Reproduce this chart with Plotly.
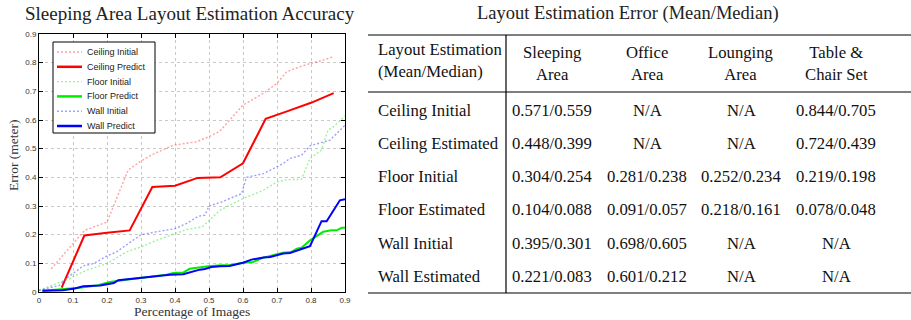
import plotly.graph_objects as go

W, H = 911, 320

# ---------------- chart data ----------------
ceil_init_x = [0.036, 0.134, 0.200, 0.262, 0.296, 0.336, 0.395, 0.463, 0.498, 0.532, 0.600, 0.660, 0.700, 0.728, 0.768, 0.797, 0.836, 0.866]
ceil_init_y = [0.081, 0.215, 0.244, 0.425, 0.454, 0.481, 0.512, 0.524, 0.541, 0.561, 0.652, 0.693, 0.728, 0.768, 0.786, 0.797, 0.809, 0.821]

ceil_pred_x = [1/15, 2/15, 3/15, 4/15, 5/15, 6/15, 7/15, 8/15, 9/15, 10/15, 11/15, 12/15, 13/15]
ceil_pred_y = [0.015, 0.197, 0.207, 0.215, 0.366, 0.371, 0.398, 0.400, 0.449, 0.604, 0.632, 0.660, 0.694]

floor_init_x = [0.0, 0.06, 0.09, 0.14, 0.20, 0.257, 0.30, 0.345, 0.40, 0.434, 0.48, 0.532, 0.60, 0.66, 0.70, 0.728, 0.772, 0.797, 0.831, 0.85, 0.866, 0.90]
floor_init_y = [0.006, 0.035, 0.047, 0.076, 0.099, 0.140, 0.157, 0.180, 0.204, 0.218, 0.227, 0.285, 0.326, 0.355, 0.384, 0.392, 0.393, 0.466, 0.495, 0.565, 0.576, 0.614]

floor_pred_x = [0.01, 0.07, 0.12, 0.17, 0.208, 0.257, 0.306, 0.34, 0.375, 0.395, 0.424, 0.443, 0.473, 0.498, 0.537, 0.56, 0.60, 0.63, 0.66, 0.684, 0.718, 0.743, 0.758, 0.772, 0.797, 0.836, 0.86, 0.876, 0.89, 0.90]
floor_pred_y = [0.004, 0.009, 0.015, 0.023, 0.035, 0.043, 0.050, 0.057, 0.060, 0.066, 0.068, 0.081, 0.087, 0.090, 0.093, 0.093, 0.102, 0.105, 0.120, 0.128, 0.137, 0.140, 0.151, 0.154, 0.180, 0.210, 0.215, 0.215, 0.224, 0.224]

wall_init_x = [0.0, 0.06, 0.08, 0.13, 0.16, 0.20, 0.228, 0.264, 0.30, 0.345, 0.40, 0.434, 0.468, 0.488, 0.50, 0.532, 0.571, 0.596, 0.61, 0.66, 0.70, 0.718, 0.738, 0.772, 0.797, 0.856, 0.90]
wall_init_y = [0.006, 0.023, 0.047, 0.091, 0.099, 0.126, 0.140, 0.169, 0.200, 0.210, 0.221, 0.239, 0.264, 0.268, 0.300, 0.312, 0.332, 0.343, 0.400, 0.413, 0.437, 0.448, 0.466, 0.477, 0.510, 0.530, 0.582]

wall_pred_x = [0.01, 0.07, 0.105, 0.13, 0.18, 0.22, 0.233, 0.257, 0.30, 0.33, 0.365, 0.385, 0.424, 0.449, 0.473, 0.488, 0.507, 0.532, 0.56, 0.60, 0.625, 0.66, 0.68, 0.718, 0.738, 0.768, 0.797, 0.831, 0.846, 0.885, 0.90]
wall_pred_y = [0.004, 0.006, 0.012, 0.020, 0.023, 0.031, 0.041, 0.044, 0.049, 0.052, 0.057, 0.060, 0.062, 0.070, 0.078, 0.080, 0.087, 0.090, 0.091, 0.102, 0.113, 0.120, 0.122, 0.134, 0.136, 0.148, 0.160, 0.247, 0.247, 0.320, 0.324]

series_names = ["Ceiling Initial", "Ceiling Predict", "Floor Initial", "Floor Predict", "Wall Initial", "Wall Predict"]

x_ticks = [0, 0.1, 0.2, 0.3, 0.4, 0.5, 0.6, 0.7, 0.8, 0.9]
x_tick_labels = ["0", "0.1", "0.2", "0.3", "0.4", "0.5", "0.6", "0.7", "0.8", "0.9"]
y_ticks = [0, 0.1, 0.2, 0.3, 0.4, 0.5, 0.6, 0.7, 0.8, 0.9]
y_tick_labels = ["0", "0.1", "0.2", "0.3", "0.4", "0.5", "0.6", "0.7", "0.8", "0.9"]

# ---------------- table data ----------------
corner_header = "Layout Estimation<br>(Mean/Median)"
col_headers = ["Sleeping<br>Area", "Office<br>Area", "Lounging<br>Area", "Table &<br>Chair Set"]
row_labels = ["Ceiling Initial", "Ceiling Estimated", "Floor Initial", "Floor Estimated", "Wall Initial", "Wall Estimated"]
sleeping_area = ["0.571/0.559", "0.448/0.399", "0.304/0.254", "0.104/0.088", "0.395/0.301", "0.221/0.083"]
office_area = ["N/A", "N/A", "0.281/0.238", "0.091/0.057", "0.698/0.605", "0.601/0.212"]
lounging_area = ["N/A", "N/A", "0.252/0.234", "0.218/0.161", "N/A", "N/A"]
table_chair = ["0.844/0.705", "0.724/0.439", "0.219/0.198", "0.078/0.048", "N/A", "N/A"]

SERIF = "Liberation Serif, Times New Roman, serif"
SANS = "Liberation Sans, Arial, sans-serif"


def px(x):
    return x / W


def py(y):
    return 1 - y / H


fig = go.Figure()

DOT = "2px,2px"
styles = [
    ("rgba(255,70,70,0.5)", DOT, 1.4),
    ("#ff0000", "solid", 2),
    ("rgba(60,230,60,0.5)", DOT, 1.4),
    ("#00ee00", "solid", 2),
    ("rgba(80,80,255,0.55)", DOT, 1.4),
    ("#0000ff", "solid", 2),
]
data = [(ceil_init_x, ceil_init_y), (ceil_pred_x, ceil_pred_y), (floor_init_x, floor_init_y),
        (floor_pred_x, floor_pred_y), (wall_init_x, wall_init_y), (wall_pred_x, wall_pred_y)]
for name, (xs, ys), (color, dash, width) in zip(series_names, data, styles):
    fig.add_trace(go.Scatter(x=xs, y=ys, mode="lines", name=name, showlegend=False,
                             line=dict(color=color, dash=dash, width=width)))

axis_common = dict(
    showline=True, linecolor="black", linewidth=1, mirror="allticks",
    ticks="inside", ticklen=4, tickcolor="black", automargin=False,
    showgrid=True, gridcolor="#c8c8c8", griddash="dot", gridwidth=1,
    zeroline=False, tickfont=dict(family=SANS, size=8, color="#333"),
)

fig.update_layout(
    width=W, height=H,
    margin=dict(l=0, r=0, t=0, b=0),
    paper_bgcolor="white", plot_bgcolor="white",
    xaxis=dict(domain=[px(39), px(345)], range=[0, 0.9], tickvals=x_ticks, ticktext=x_tick_labels, **axis_common),
    yaxis=dict(domain=[py(292), py(34)], range=[0, 0.9], tickvals=y_ticks, ticktext=y_tick_labels, **axis_common),
    showlegend=False,
)

annotations = []
shapes = []
# chart title and axis titles
annotations.append(dict(x=px(190), y=py(13), xref="paper", yref="paper", text="Sleeping Area Layout Estimation Accuracy",
                        showarrow=False, font=dict(family=SERIF, size=19, color="#222"), xanchor="center", yanchor="middle"))
annotations.append(dict(x=px(192), y=py(311), xref="paper", yref="paper", text="Percentage of Images",
                        showarrow=False, font=dict(family=SERIF, size=13.5, color="#333"), xanchor="center", yanchor="middle"))
annotations.append(dict(x=px(13), y=py(155), xref="paper", yref="paper", text="Error (meter)", textangle=-90,
                        showarrow=False, font=dict(family=SERIF, size=13.5, color="#333"), xanchor="center", yanchor="middle"))

# manual legend (compact, as in the reference)
shapes.append(dict(type="rect", xref="paper", yref="paper", x0=px(53), x1=px(155), y0=py(42), y1=py(133),
                   line=dict(color="black", width=1), fillcolor="white", layer="above"))
leg_y0, leg_dy = 52, 14.8
for i, (name, (color, dash, width)) in enumerate(zip(series_names, styles)):
    yy = leg_y0 + i * leg_dy
    shapes.append(dict(type="line", xref="paper", yref="paper", x0=px(57), x1=px(82), y0=py(yy), y1=py(yy),
                       line=dict(color=color, dash=dash, width=width + 0.5 if dash == "solid" else width), layer="above"))
    annotations.append(dict(x=px(85), y=py(yy), xref="paper", yref="paper", text=name, showarrow=False,
                            xanchor="left", yanchor="middle", font=dict(family=SANS, size=9, color="#222")))

# table title
annotations.append(dict(x=px(628), y=py(13), xref="paper", yref="paper", text="Layout Estimation Error (Mean/Median)",
                        showarrow=False, font=dict(family=SERIF, size=18.5, color="#222"), xanchor="center", yanchor="middle"))

CELL = 16.7
annotations.append(dict(x=px(376), y=py(60), xref="paper", yref="paper", text=corner_header, showarrow=False,
                        align="left", xanchor="left", yanchor="middle", font=dict(family=SERIF, size=CELL, color="#111")))
col_x = [552, 647, 741, 836]
for cx, h in zip(col_x, col_headers):
    annotations.append(dict(x=px(cx), y=py(63.5), xref="paper", yref="paper", text=h, showarrow=False,
                            align="center", xanchor="center", yanchor="middle", font=dict(family=SERIF, size=CELL, color="#111")))
row_y = [110, 143, 176, 209.5, 243, 276]
columns = [sleeping_area, office_area, lounging_area, table_chair]
for i, (ry, lab) in enumerate(zip(row_y, row_labels)):
    annotations.append(dict(x=px(376), y=py(ry), xref="paper", yref="paper", text=lab, showarrow=False,
                            xanchor="left", yanchor="middle", font=dict(family=SERIF, size=CELL, color="#111")))
    for cx, col in zip(col_x, columns):
        annotations.append(dict(x=px(cx), y=py(ry), xref="paper", yref="paper", text=col[i], showarrow=False,
                                xanchor="center", yanchor="middle", font=dict(family=SERIF, size=CELL, color="#111")))

# table rules
rule = dict(color="black", width=1.2)
shapes += [
    dict(type="line", xref="paper", yref="paper", x0=px(368), x1=px(911), y0=py(35), y1=py(35), line=rule),
    dict(type="line", xref="paper", yref="paper", x0=px(368), x1=px(911), y0=py(92), y1=py(92), line=rule),
    dict(type="line", xref="paper", yref="paper", x0=px(368), x1=px(911), y0=py(293), y1=py(293), line=rule),
    dict(type="line", xref="paper", yref="paper", x0=px(506), x1=px(506), y0=py(35), y1=py(293), line=rule),
]

fig.update_layout(annotations=annotations, shapes=shapes)

fig.write_html("out.html", config={"displayModeBar": False},
               post_script="document.body.style.margin='0';document.body.style.overflow='hidden';")
